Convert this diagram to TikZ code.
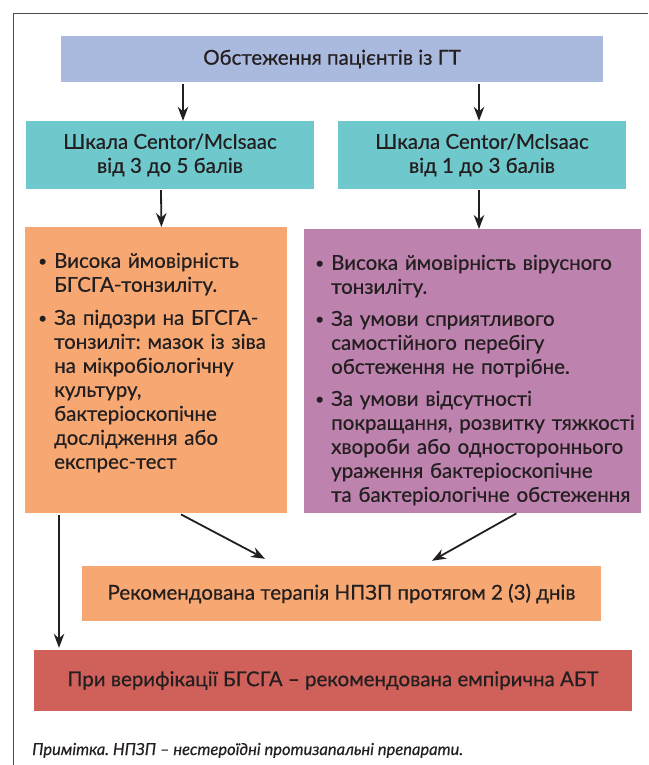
\documentclass[tikz,border=0pt]{standalone}
\usepackage{fontspec}
\setmainfont{Lato}[FakeBold=0.5]
\usepackage{xcolor}
\usetikzlibrary{arrows.meta}

\definecolor{ink}{HTML}{231F20}
\definecolor{framegray}{HTML}{4A4A4A}
\definecolor{surveyblue}{HTML}{AAB9DE}
\definecolor{scalecyan}{HTML}{6FC8CB}
\definecolor{bactorange}{HTML}{F7A872}
\definecolor{viralpurple}{HTML}{BE82AE}
\definecolor{abtred}{HTML}{D0605A}

\newcommand{\bpoint}[1]{\par\hangindent=16pt\hangafter=1\noindent\makebox[16pt][l]{\raisebox{1.5pt}{\scalebox{0.75}{\textbullet}}}#1\par}

\begin{document}
\frenchspacing
\begin{tikzpicture}[
    x=1pt, y=-1pt,
    every node/.style={text=ink, font=\fontsize{20.5}{24}\selectfont\frenchspacing, inner sep=0pt},
    flatbox/.style={rectangle, align=center},
    listbox/.style={rectangle, anchor=north west, align=left, inner ysep=0pt, text height=16.6pt},
    arr/.style={draw=ink, line width=1.8pt, -{Stealth[length=14pt,width=10.5pt]}}
]
\useasboundingbox (0,0) rectangle (648,765);
\draw[framegray, line width=1pt] (13,765) -- (13,14) -- (648,14);

\node[flatbox, fill=surveyblue, minimum width=542pt, minimum height=46pt] (survey) at (332,59) {Обстеження пацієнтів із ГТ};
\node[flatbox, fill=scalecyan, minimum width=288pt, minimum height=68pt] (highscore) at (170,155) {Шкала Centor/McIsaac\\від 3 до 5 балів};
\node[flatbox, fill=scalecyan, minimum width=288pt, minimum height=68pt] (lowscore) at (482,155) {Шкала Centor/McIsaac\\від 1 до 3 балів};

\node[listbox, fill=bactorange, inner xsep=13pt, text width=236pt, text depth=269.4pt] (bact) at (25,227) {%
    \bpoint{Висока ймовірність\newline БГСГА-тонзиліту.}\vspace{9pt}%
    \bpoint{За підозри на БГСГА-\newline тонзиліт: мазок із зіва\newline на мікробіологічну\newline культуру,\newline бактеріоскопічне\newline дослідження або\newline експрес-тест}};
\node[listbox, fill=viralpurple, inner xsep=5pt, text width=327pt, text depth=267.4pt] (viral) at (304,229) {%
    \leftskip=6pt
    \bpoint{Висока ймовірність вірусного\newline тонзиліту.}\vspace{8pt}%
    \bpoint{За умови сприятливого\newline самостійного перебігу\newline обстеження не потрібне.}\vspace{8pt}%
    \bpoint{За умови відсутності\newline покращання, розвитку тяжкості\newline хвороби або одностороннього\newline ураження бактеріоскопічне\newline та бактеріологічне обстеження}};

\node[flatbox, fill=bactorange, minimum width=519pt, minimum height=55pt] (therapy) at (341.5,593.5) {Рекомендована терапія НПЗП протягом 2 (3) днів};
\node[flatbox, fill=abtred, minimum width=598pt, minimum height=61pt] (abt) at (333,680.5) {При верифікації БГСГА – рекомендована емпірична АБТ};

\node[anchor=base west, font=\fontsize{16.5}{19}\selectfont\itshape] (note) at (32,755) {Примітка. НПЗП – нестероїдні протизапальні препарати.};

\draw[arr] ([xshift=-149pt,yshift=-2pt]survey.south) -- ([xshift=13pt]highscore.north);
\draw[arr] ([xshift=147pt,yshift=-2pt]survey.south) -- ([xshift=-3pt]lowscore.north);
\draw[arr] ([xshift=-9pt,yshift=-1pt]highscore.south) -- ([xshift=-126pt]bact.north east);
\draw[arr] ([xshift=-3pt,yshift=-1pt]lowscore.south) -- ([xshift=175pt]viral.north west);
\draw[arr] ([xshift=156pt,yshift=-1pt]bact.south west) -- ([xshift=-76.5pt,yshift=7pt]therapy.north);
\draw[arr] ([xshift=-125pt]viral.south east) -- ([xshift=90.5pt,yshift=5pt]therapy.north);
\draw[arr] ([xshift=34pt,yshift=-2pt]bact.south west) -- ([xshift=-274pt,yshift=2pt]abt.north);
\end{tikzpicture}
\end{document}
